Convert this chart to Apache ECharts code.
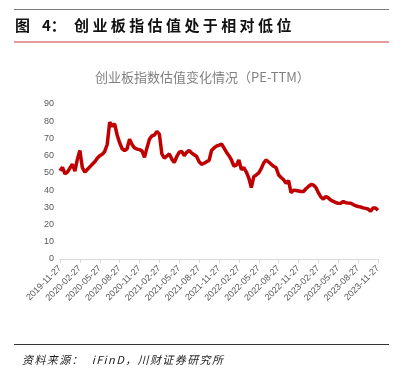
<!DOCTYPE html>
<html>
<head>
<meta charset="utf-8">
<script src="https://cdn.jsdelivr.net/npm/echarts@6/dist/echarts.min.js"></script>
<style>
  html, body { margin: 0; padding: 0; background: #fff; }
  #wrap { position: relative; width: 405px; height: 381px; overflow: hidden; background: #fff; }
  #chart { position: absolute; left: 0; top: 0; width: 405px; height: 381px; }
  .ov { position: absolute; pointer-events: none; }
  #topline { left: 14px; top: 9px; width: 375px; height: 1px; background: #7a7a7a; }
  #pinkline { left: 14px; top: 41px; width: 375px; height: 2px; background: #e59a9b; }
  #botline { left: 14px; top: 344px; width: 375px; height: 1px; background: #333; }
  .head { top: 15px; font-family: "Noto Sans CJK SC", sans-serif; font-weight: bold; font-size: 15px; line-height: 20px; color: #111; white-space: nowrap; }
  #h1 { left: 15px; }
  #h2 { left: 42px; }
  #h3 { left: 74px; letter-spacing: 3.4px; }
  #foot { left: 22px; top: 352px; font-family: "Noto Sans CJK SC", sans-serif; font-style: italic; font-size: 11px; line-height: 14px; color: #222; white-space: nowrap; letter-spacing: 1.4px; }
</style>
</head>
<body>
<div id="wrap">
  <div id="chart"></div>
  <div class="ov" id="topline"></div>
  <div class="ov head" id="h1">图</div>
  <div class="ov head" id="h2">4：</div>
  <div class="ov head" id="h3">创业板指估值处于相对低位</div>
  <div class="ov" id="pinkline"></div>
  <div class="ov" id="botline"></div>
  <div class="ov" id="foot">资料来源：&nbsp;&nbsp;iFinD，川财证券研究所</div>
</div>
<script>
// Tick labels shown on the x axis (quarterly)
var tickLabels = [
  '2019-11-27','2020-02-27','2020-05-27','2020-08-27','2020-11-27',
  '2021-02-27','2021-05-27','2021-08-27','2021-11-27','2022-02-27',
  '2022-05-27','2022-08-27','2022-11-27','2023-02-27','2023-05-27',
  '2023-08-27','2023-11-27'
];
// Number of samples per quarter interval
var stepsPerTick = 8;
// PE-TTM of ChiNext index
var peValues = [
  51.2, 53.2, 49.5, 50.5, 52.8, 55.0, 51.0, 58.0,
  63.0, 53.0, 50.5, 52.0, 53.5, 55.0, 56.5, 58.5,
  60.0, 60.8, 62.5, 66.5, 79.5, 77.0, 78.5, 72.0,
  67.5, 64.0, 63.0, 64.0, 69.5, 66.5, 64.5, 63.8,
  63.5, 62.8, 59.0, 64.5, 69.5, 71.5, 72.0, 74.0,
  72.5, 61.0, 58.5, 59.8, 61.0, 58.0, 56.0, 59.5,
  62.0, 62.5, 60.0, 62.0, 63.0, 61.5, 60.5, 59.5,
  56.5, 55.0, 55.6, 56.5, 57.2, 63.0, 64.5, 65.6,
  66.0, 66.8, 64.5, 62.0, 60.0, 57.5, 54.0, 54.5,
  57.5, 52.0, 53.0, 50.5, 47.0, 41.5, 47.8, 48.8,
  50.0, 52.5, 55.8, 57.5, 56.3, 55.0, 53.8, 53.0,
  48.8, 47.3, 46.0, 44.0, 45.5, 38.5, 40.0, 39.8,
  39.5, 39.2, 39.2, 40.8, 42.1, 43.2, 43.0, 41.5,
  38.5, 36.0, 34.8, 36.3, 35.5, 34.2, 33.5, 32.8,
  32.3, 32.4, 33.4, 32.7, 32.5, 32.4, 31.6, 30.9,
  30.5, 30.2, 29.7, 29.4, 29.0, 27.8, 29.6, 29.6,
  28.3
];
var yTicks = { min: 0, max: 90, interval: 10 };

var categories = peValues.map(function (v, i) {
  return (i % stepsPerTick === 0) ? tickLabels[i / stepsPerTick] : '';
});

var chart = echarts.init(document.getElementById('chart'), null, { renderer: 'canvas' });
chart.setOption({
  animation: false,
  backgroundColor: 'transparent',
  title: {
    text: '创业板指数估值变化情况（PE-TTM）',
    left: 90,
    top: 66,
    textStyle: {
      fontFamily: '"Noto Sans CJK SC", sans-serif',
      fontSize: 13,
      fontWeight: 'normal',
      color: '#808080'
    }
  },
  grid: { left: 60, right: 27, top: 104, bottom: 122, containLabel: false },
  xAxis: {
    type: 'category',
    data: categories,
    boundaryGap: false,
    axisLine: { show: true, lineStyle: { color: '#d9d9d9', width: 1 } },
    axisTick: { show: true, interval: stepsPerTick - 1, length: 4, lineStyle: { color: '#d9d9d9' } },
    axisLabel: {
      interval: stepsPerTick - 1,
      rotate: 45,
      margin: 8,
      fontSize: 9,
      color: '#595959',
      fontFamily: '"Liberation Sans", sans-serif'
    },
    splitLine: { show: false }
  },
  yAxis: {
    type: 'value',
    min: yTicks.min,
    max: yTicks.max,
    interval: yTicks.interval,
    axisLine: { show: false },
    axisTick: { show: false },
    splitLine: { show: false },
    axisLabel: { fontSize: 9, color: '#595959', margin: 6, fontFamily: '"Liberation Sans", sans-serif' }
  },
  series: [{
    type: 'line',
    data: peValues,
    showSymbol: false,
    symbol: 'none',
    lineStyle: { color: '#c00000', width: 3.5 },
    itemStyle: { color: '#c00000' }
  }]
});
</script>
</body>
</html>
